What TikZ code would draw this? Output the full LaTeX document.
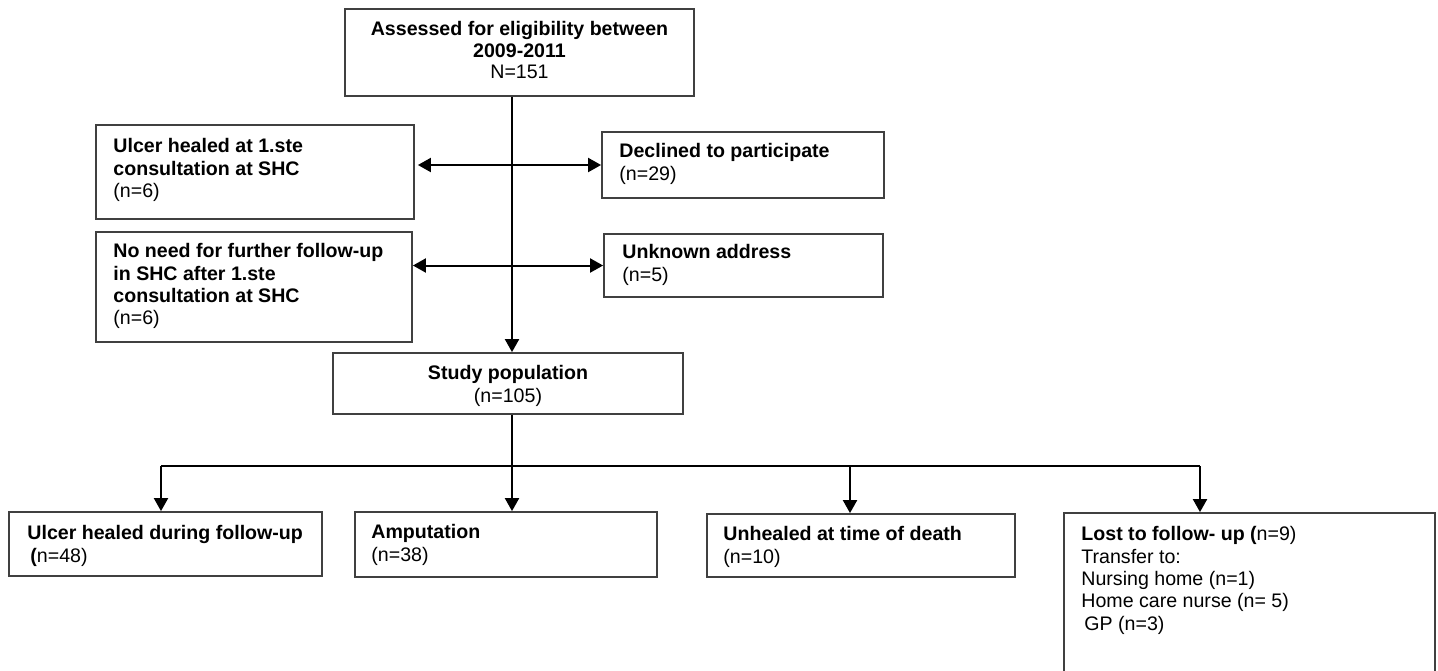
\documentclass[tikz,border=0pt]{standalone}
\usepackage{fontspec}
\setmainfont{Liberation Sans}
\usetikzlibrary{arrows.meta,fit}
\begin{document}
\begin{tikzpicture}[x=0.5pt,y=-0.5pt,
  box/.style={draw=black!75, line width=0.9pt, inner sep=0pt},
  txt/.style={inner sep=0pt, font=\fontsize{9.8}{11.2}\selectfont, align=left, anchor=north west},
  ctxt/.style={txt, align=center, anchor=north},
  arr/.style={line width=1pt, -{Triangle[length=6.5pt,width=7pt]}},
  dbl/.style={line width=1pt, {Triangle[length=6.5pt,width=7pt]}-{Triangle[length=6.5pt,width=7pt]}},
  ln/.style={line width=1pt}]
\clip (0,0) rectangle (1438,670);
\fill[white] (0,0) rectangle (1438,670);

% boxes
\node[box, fit={(345,9)(694,96)}] (top) {};
\node[ctxt, font=\fontsize{9.8}{10.8}\selectfont] (topt) at (519.5,21) {\textbf{Assessed for eligibility between}\\\textbf{2009-2011}\\N=151};

\node[box, fit={(96,125)(414,219)}] (heal1) {};
\node[txt] (heal1t) at (113,138) {\textbf{Ulcer healed at 1.ste}\\\textbf{consultation at SHC}\\(n=6)};

\node[box, fit={(96,232)(412,342)}] (noneed) {};
\node[txt] (noneedt) at (113,243) {\textbf{No need for further follow-up}\\\textbf{in SHC after 1.ste}\\\textbf{consultation at SHC}\\(n=6)};

\node[box, fit={(602,132)(884,198)}] (decl) {};
\node[txt] (declt) at (619,143) {\textbf{Declined to participate}\\(n=29)};

\node[box, fit={(604,234)(883,297)}] (unk) {};
\node[txt] (unkt) at (622,244) {\textbf{Unknown address}\\(n=5)};

\node[box, fit={(333,353)(683,414)}] (study) {};
\node[ctxt] (studyt) at (508,365) {\textbf{Study population}\\(n=105)};

\node[box, fit={(9,512)(322,576)}] (healed) {};
\node[txt] (healedt) at (27,525) {\textbf{Ulcer healed during follow-up}\\\hspace*{1.5pt}\textbf{(}n=48)};

\node[box, fit={(355,512)(657,577)}] (amp) {};
\node[txt] (ampt) at (371,524) {\textbf{Amputation}\\(n=38)};

\node[box, fit={(707,514)(1015,577)}] (unh) {};
\node[txt] (unht) at (723,526) {\textbf{Unhealed at time of death}\\(n=10)};

\node[box, fit={(1064,513)(1435,690)}] (lost) {};
\node[txt] (lostt) at (1081,526) {\textbf{Lost to follow- up (}n=9)\\Transfer to:\\Nursing home (n=1)\\Home care nurse (n= 5)\\\hspace*{1.5pt}GP (n=3)};

% connectors
\coordinate (spine) at (512,0);
\draw[arr] (top.south -| spine) -- (study.north -| spine);
\draw[dbl] ([xshift=1.5pt]heal1.east |- decl.west) -- (decl.west);
\draw[dbl] (noneed.east |- unk.west) -- (unk.west);
\draw[arr] (study.south -| spine) -- (amp.north -| spine);

\coordinate (j1) at (161,466);
\coordinate (j3) at (850,466);
\coordinate (j4) at (1200,466);
\draw[ln] (j1) -- (j4);
\draw[arr] (j1) -- (j1 |- healed.north);
\draw[arr] (j3) -- (j3 |- unh.north);
\draw[arr] (j4) -- (j4 |- lost.north);
\end{tikzpicture}
\end{document}
